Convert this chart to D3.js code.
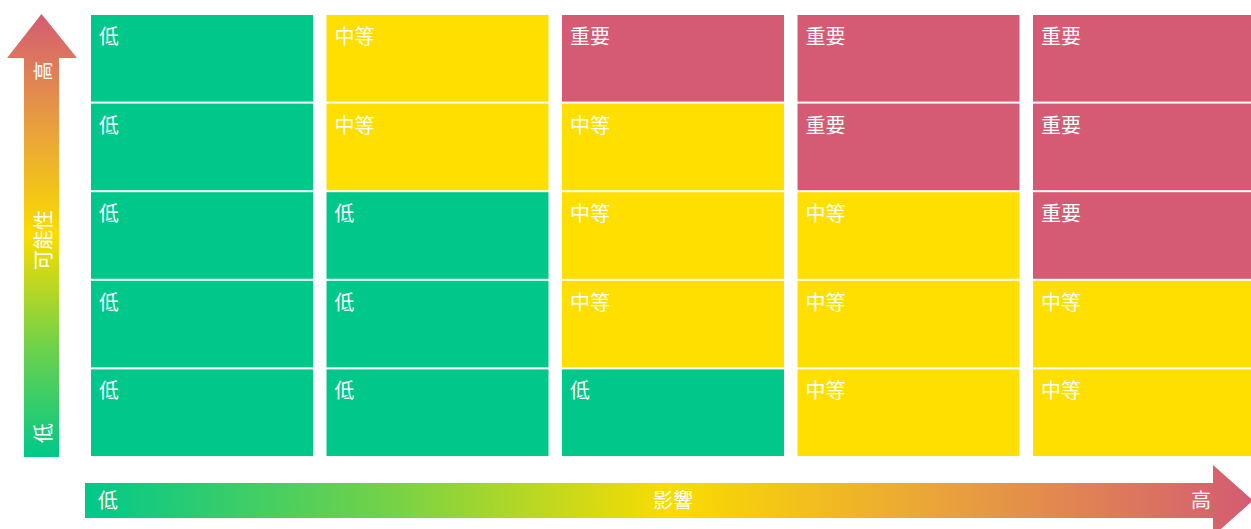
<!DOCTYPE html>
<html>
<head>
<meta charset="utf-8">
<script src="https://cdn.jsdelivr.net/npm/d3@7"></script>
<style>
  html, body { margin: 0; padding: 0; background: #fff; overflow: hidden; }
  svg { display: block; }
  text { font-family: "Noto Sans CJK TC", "Noto Sans CJK SC", sans-serif; fill: #fff; }
</style>
</head>
<body>
<svg id="chart"></svg>
<script>
// data
const impactLevels = ["1", "2", "3", "4", "5"];        // 影響: 低 -> 高
const likelihoodLevels = ["5", "4", "3", "2", "1"];    // 可能性: top row = 高
const riskRows = [
  ["低", "中等", "重要", "重要", "重要"],
  ["低", "中等", "中等", "重要", "重要"],
  ["低", "低", "中等", "中等", "重要"],
  ["低", "低", "中等", "中等", "中等"],
  ["低", "低", "低", "中等", "中等"]
];
const riskCategories = ["低", "中等", "重要"];
const yAxisLabels = ["低", "可能性", "高"];
const xAxisLabels = ["低", "影響", "高"];

const width = 1251, height = 529;

const svg = d3.select("#chart")
  .attr("width", width)
  .attr("height", height)
  .attr("viewBox", [0, 0, width, height]);

const color = d3.scaleOrdinal()
  .domain(riskCategories)
  .range(["#00C88A", "#FFDF00", "#D45B73"]);

// cell scales
const x = d3.scaleBand()
  .domain(impactLevels)
  .range([91, 1255])
  .paddingInner(0.0573)
  .paddingOuter(0);

const y = d3.scaleBand()
  .domain(likelihoodLevels)
  .range([15, 456])
  .paddingInner(0.0226)
  .paddingOuter(0);

const cells = [];
riskRows.forEach(function (row, i) {
  row.forEach(function (label, j) {
    cells.push({ row: likelihoodLevels[i], col: impactLevels[j], label: label });
  });
});

const g = svg.append("g");
g.selectAll("rect")
  .data(cells)
  .join("rect")
  .attr("x", d => x(d.col))
  .attr("y", d => y(d.row))
  .attr("width", x.bandwidth())
  .attr("height", y.bandwidth())
  .attr("fill", d => color(d.label));

g.selectAll("text")
  .data(cells)
  .join("text")
  .attr("x", d => x(d.col) + 8)
  .attr("y", d => y(d.row) + 29)
  .attr("font-size", 20)
  .text(d => d.label);

// gradients
const defs = svg.append("defs");
const stops = [
  [0, "#00C88A"], [0.26, "#74D247"], [0.5, "#FADC00"], [0.74, "#E9A13C"], [1, "#D45B73"]
];
const gv = defs.append("linearGradient").attr("id", "gradV")
  .attr("x1", 0).attr("y1", 1).attr("x2", 0).attr("y2", 0);
gv.selectAll("stop").data(stops).join("stop")
  .attr("offset", d => d[0]).attr("stop-color", d => d[1]);
const gh = defs.append("linearGradient").attr("id", "gradH")
  .attr("x1", 0).attr("y1", 0).attr("x2", 1).attr("y2", 0);
gh.selectAll("stop").data(stops).join("stop")
  .attr("offset", d => d[0]).attr("stop-color", d => d[1]);

// vertical arrow (likelihood)
const vArrow = d3.path();
vArrow.moveTo(24, 457);
vArrow.lineTo(24, 58);
vArrow.lineTo(7, 58);
vArrow.lineTo(41.5, 14);
vArrow.lineTo(77, 58);
vArrow.lineTo(59, 58);
vArrow.lineTo(59, 457);
vArrow.closePath();
svg.append("path").attr("d", vArrow.toString()).attr("fill", "url(#gradV)");

const vPos = [433, 240, 71];
svg.selectAll(".vlab")
  .data(yAxisLabels)
  .join("text")
  .attr("class", "vlab")
  .attr("transform", (d, i) => `translate(42,${vPos[i]}) rotate(-90)`)
  .attr("text-anchor", "middle")
  .attr("dominant-baseline", "central")
  .attr("font-size", 20)
  .text(d => d);

// horizontal arrow (impact)
const hArrow = d3.path();
hArrow.moveTo(85, 483);
hArrow.lineTo(1213, 483);
hArrow.lineTo(1213, 465);
hArrow.lineTo(1253, 500.5);
hArrow.lineTo(1213, 536);
hArrow.lineTo(1213, 518);
hArrow.lineTo(85, 518);
hArrow.closePath();
svg.append("path").attr("d", hArrow.toString()).attr("fill", "url(#gradH)");

const hPos = [108, 673, 1201];
svg.selectAll(".hlab")
  .data(xAxisLabels)
  .join("text")
  .attr("class", "hlab")
  .attr("x", (d, i) => hPos[i])
  .attr("y", 499)
  .attr("text-anchor", "middle")
  .attr("dominant-baseline", "central")
  .attr("font-size", 20)
  .text(d => d);
</script>
</body>
</html>
